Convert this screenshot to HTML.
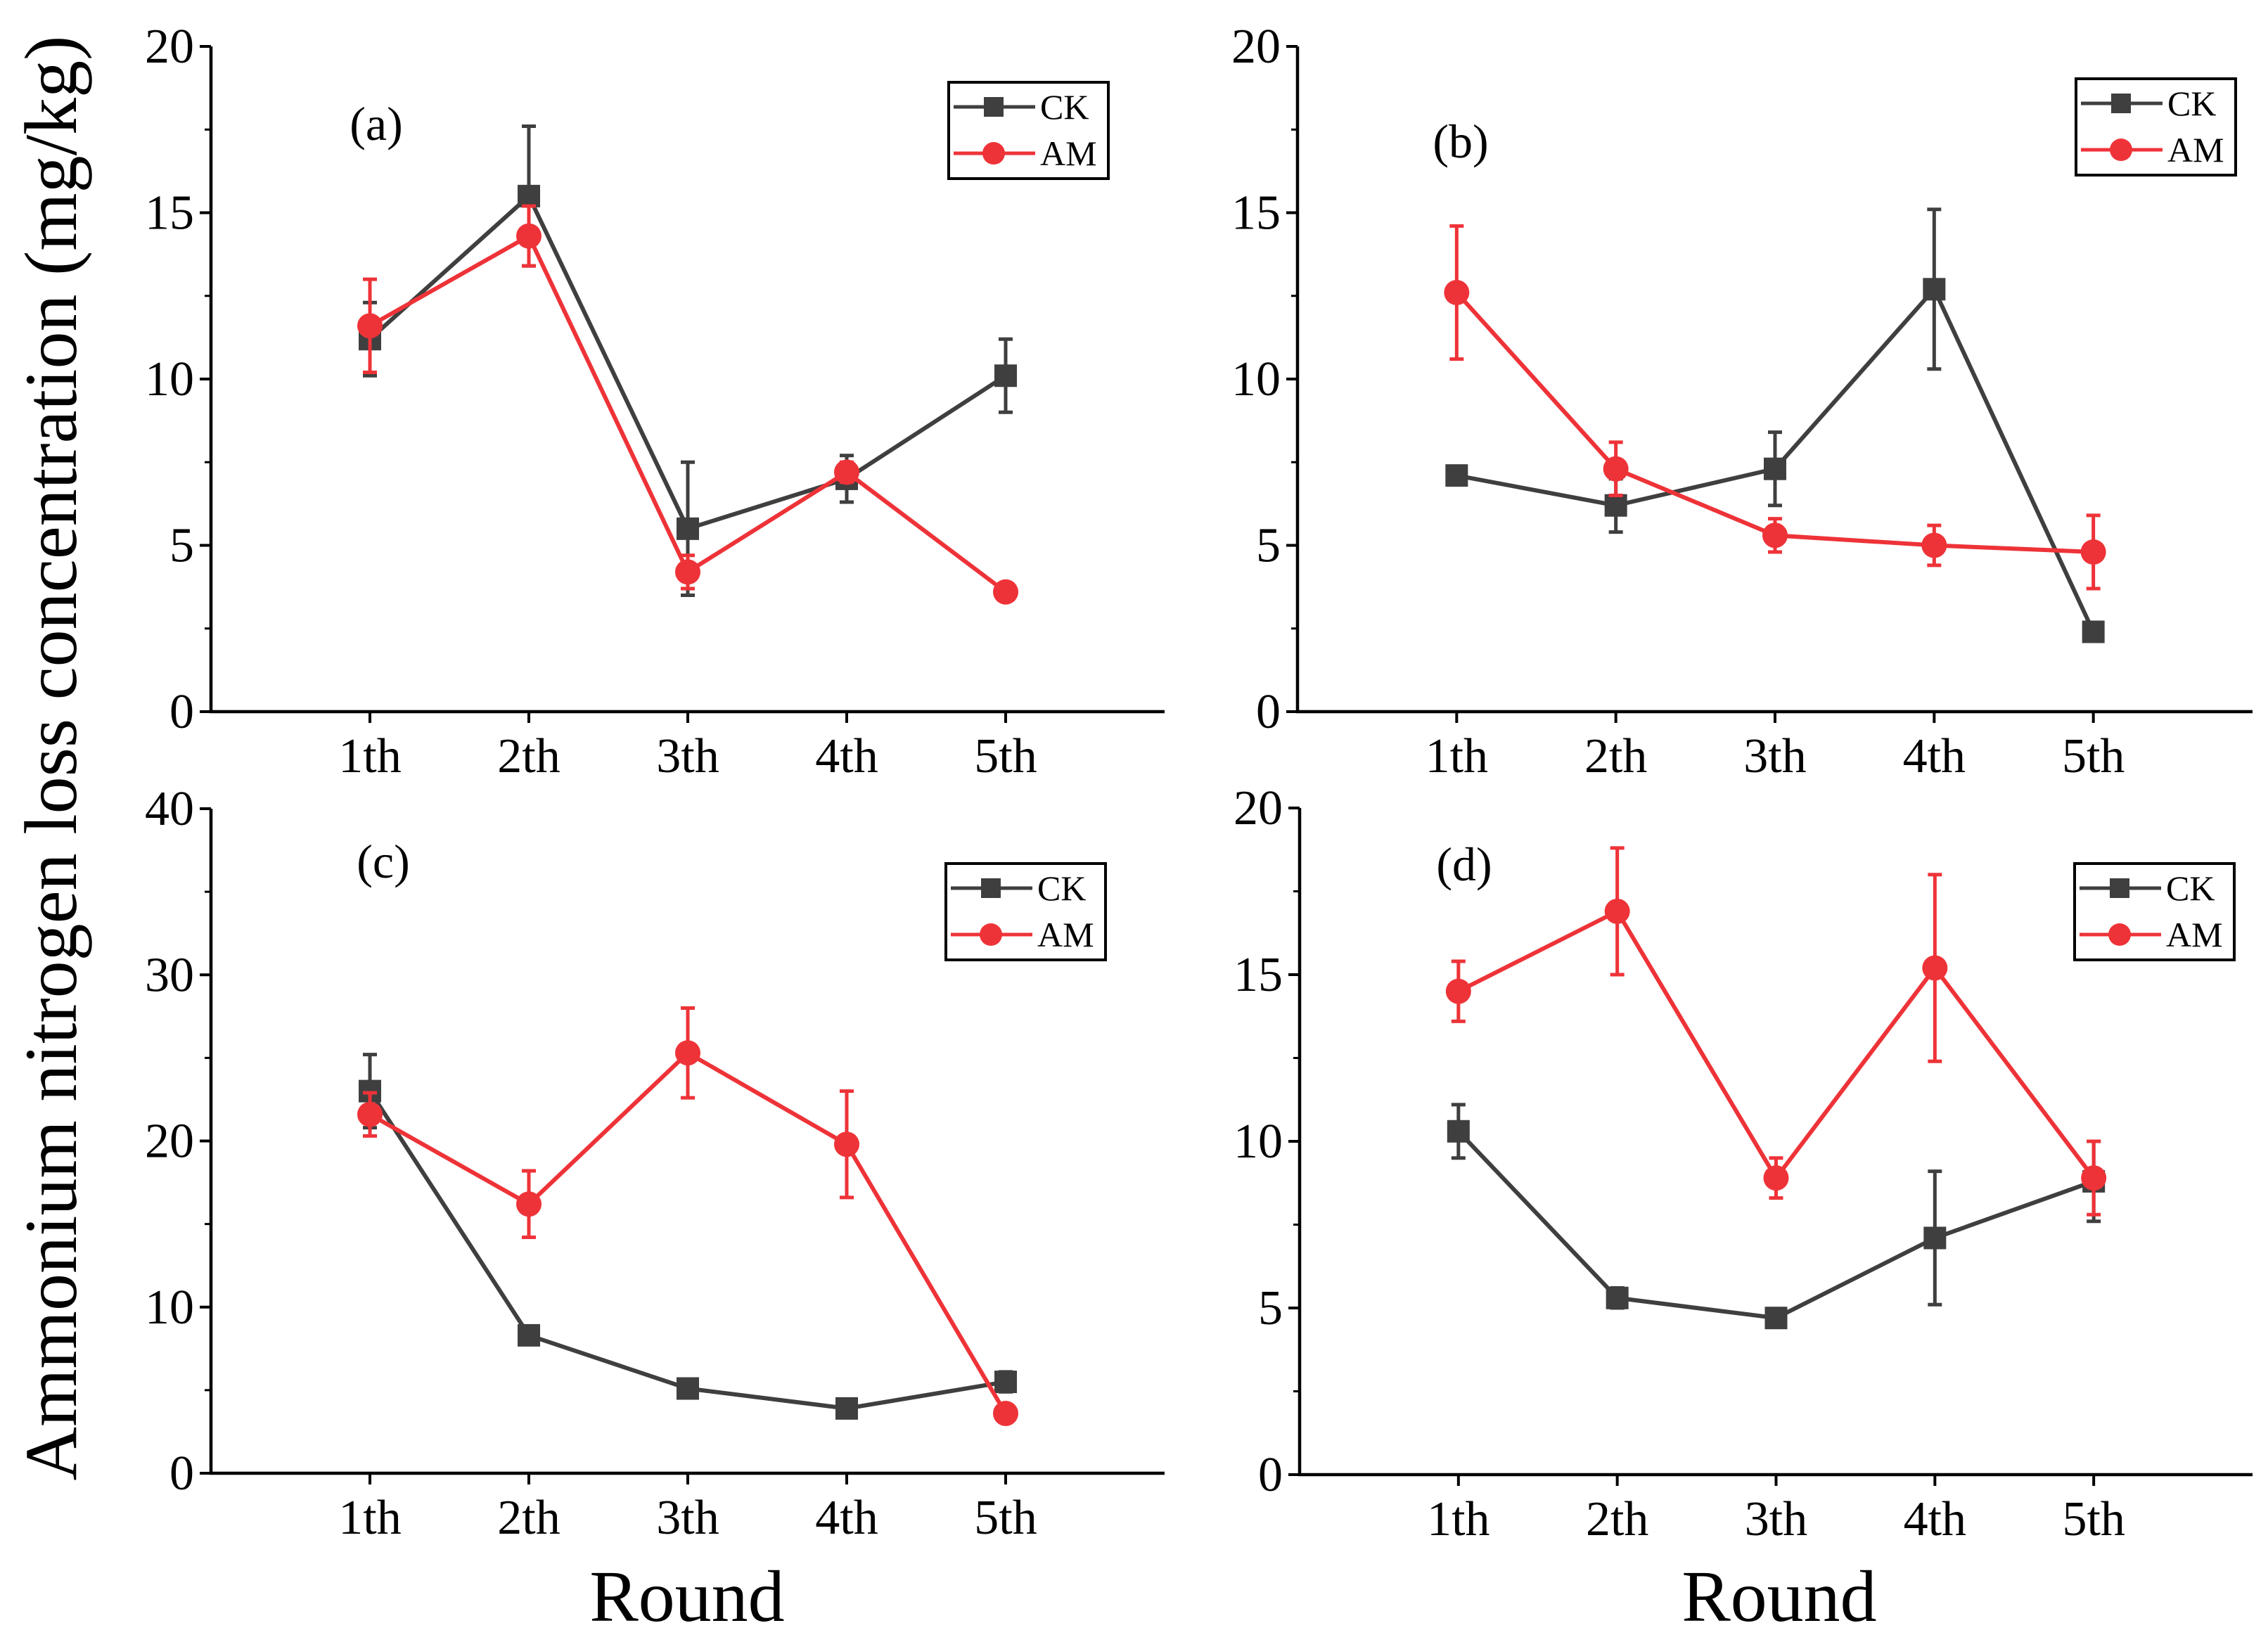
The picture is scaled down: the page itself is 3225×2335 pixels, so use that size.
<!DOCTYPE html>
<html><head><meta charset="utf-8"><style>
html,body{margin:0;padding:0;background:#fff}
svg{display:block;font-family:"Liberation Serif",serif}
</style></head><body>
<svg id="chart" width="3225" height="2335" viewBox="0 0 3225 2335" xmlns="http://www.w3.org/2000/svg">
<rect width="3225" height="2335" fill="#fff"/>
<text transform="translate(108,1078) rotate(-90)" text-anchor="middle" font-size="106">Ammonium nitrogen loss concentration (mg/kg)</text>
<text x="977" y="2305" text-anchor="middle" font-size="104">Round</text>
<text x="2530" y="2305" text-anchor="middle" font-size="104">Round</text>
</svg>
<script>
const categories = ["1th","2th","3th","4th","5th"];
const aCK = [11.2,15.5,5.5,7.0,10.1];
const aCKerr = [1.1,2.1,2.0,0.7,1.1];
const aAM = [11.6,14.3,4.2,7.2,3.6];
const aAMerr = [1.4,0.9,0.5,0.3,0.2];
const bCK = [7.1,6.2,7.3,12.7,2.4];
const bCKerr = [0.2,0.8,1.1,2.4,0.1];
const bAM = [12.6,7.3,5.3,5.0,4.8];
const bAMerr = [2.0,0.8,0.5,0.6,1.1];
const cCK = [23.0,8.3,5.1,3.9,5.5];
const cCKerr = [2.2,0.4,0.4,0.3,0.6];
const cAM = [21.6,16.2,25.3,19.8,3.6];
const cAMerr = [1.3,2.0,2.7,3.2,0.2];
const dCK = [10.3,5.3,4.7,7.1,8.8];
const dCKerr = [0.8,0.3,0.2,2.0,1.2];
const dAM = [14.5,16.9,8.9,15.2,8.9];
const dAMerr = [0.9,1.9,0.6,2.8,1.1];
const ticksAB = [0,5,10,15,20];
const ticksC = [0,10,20,30,40];
const ticksD = [0,5,10,15,20];

const svg = document.getElementById('chart');
const NS = 'http://www.w3.org/2000/svg';
function mk(tag, attrs, parent){
  const e = document.createElementNS(NS, tag);
  for (const k in attrs) e.setAttribute(k, attrs[k]);
  (parent||svg).appendChild(e);
  return e;
}
const CKC = '#3f3f3f', AMC = '#ee3338';

function panel(id, box, ticks, ymax, ck, ckErr, am, amErr, lbl, lblPos, leg){
  const g = mk('g', {});
  
  
  const xs = v => box.x0 + (box.x1 - box.x0) * v / 6;
  const ys = v => box.yb - (box.yb - box.yt) * v / ymax;
  const ax = mk('path', {d:`M${box.x0},${box.yt} V${box.yb} H${box.x1}`, fill:'none', stroke:'#000', 'stroke-width':4.5}, g);
  
  
  const step = ticks[1] - ticks[0];
  ticks.forEach((t, i) => {
    mk('line', {x1:box.x0, x2:box.x0 - 16, y1:ys(t), y2:ys(t), stroke:'#000', 'stroke-width':4}, g);
    if (i < ticks.length - 1) mk('line', {x1:box.x0, x2:box.x0 - 9, y1:ys(t + step/2), y2:ys(t + step/2), stroke:'#000', 'stroke-width':3}, g);
    const tl = mk('text', {x:box.x0 - 24, y:ys(t) + 23, 'text-anchor':'end', 'font-size':70}, g);
    
    
    tl.textContent = t;
  });
  categories.forEach((c, i) => {
    const x = xs(i + 1);
    mk('line', {x1:x, x2:x, y1:box.yb, y2:box.yb + 16, stroke:'#000', 'stroke-width':4}, g);
    const tl = mk('text', {x:x, y:box.yb + 86, 'text-anchor':'middle', 'font-size':70}, g);
    
    
    tl.textContent = c;
  });
  function series(vals, errs, color, shape, name){
    const sg = mk('g', {}, g);
    
    
    const pts = vals.map((v, i) => xs(i + 1) + ',' + ys(v)).join(' ');
    mk('polyline', {points:pts, fill:'none', stroke:color, 'stroke-width':6}, sg);
    vals.forEach((v, i) => {
      const x = xs(i + 1);
      const eb = mk('path', {d:`M${x},${ys(v+errs[i])} V${ys(v-errs[i])} M${x-10},${ys(v+errs[i])} H${x+10} M${x-10},${ys(v-errs[i])} H${x+10}`, stroke:color, 'stroke-width':5, fill:'none'}, sg);
      
      
      let m;
      if (shape === 'sq') m = mk('rect', {x:x - 16, y:ys(v) - 16, width:32, height:32, fill:color}, sg);
      else m = mk('circle', {cx:x, cy:ys(v), r:18, fill:color}, sg);
      
      
    });
  }
  series(ck, ckErr, CKC, 'sq', 'ck');
  series(am, amErr, AMC, 'ci', 'am');
  const pl = mk('text', {x:lblPos[0], y:lblPos[1], 'text-anchor':'middle', 'font-size':68}, g);
  
  
  pl.textContent = lbl;
  const lg = mk('g', {}, g);
  
  
  mk('rect', {x:leg[0], y:leg[1], width:227, height:137, fill:'#fff', stroke:'#000', 'stroke-width':4}, lg);
  const lx = leg[0];
  [[CKC,'sq','CK',35],[AMC,'ci','AM',101]].forEach(r => {
    const yy = leg[1] + r[3];
    mk('line', {x1:lx + 7, x2:lx + 123, y1:yy, y2:yy, stroke:r[0], 'stroke-width':5}, lg);
    if (r[1] === 'sq') mk('rect', {x:lx + 50, y:yy - 14, width:28, height:28, fill:r[0]}, lg);
    else mk('circle', {cx:lx + 64, cy:yy, r:16, fill:r[0]}, lg);
    const t = mk('text', {x:lx + 130, y:yy + 17, 'font-size':50}, lg);
    
    
    t.textContent = r[2];
  });
}
panel('a', {x0:300, x1:1656, yt:66, yb:1012}, ticksAB, 20, aCK, aCKerr, aAM, aAMerr, '(a)', [535,199], [1349,117]);
panel('b', {x0:1845, x1:3203, yt:66, yb:1012}, ticksAB, 20, bCK, bCKerr, bAM, bAMerr, '(b)', [2077,224], [2952,112]);
panel('c', {x0:300, x1:1656, yt:1150, yb:2095}, ticksC, 40, cCK, cCKerr, cAM, cAMerr, '(c)', [545,1248], [1345,1228]);
panel('d', {x0:1848, x1:3203, yt:1149, yb:2097}, ticksD, 20, dCK, dCKerr, dAM, dAMerr, '(d)', [2082,1252], [2950,1228]);
</script>
</body></html>
